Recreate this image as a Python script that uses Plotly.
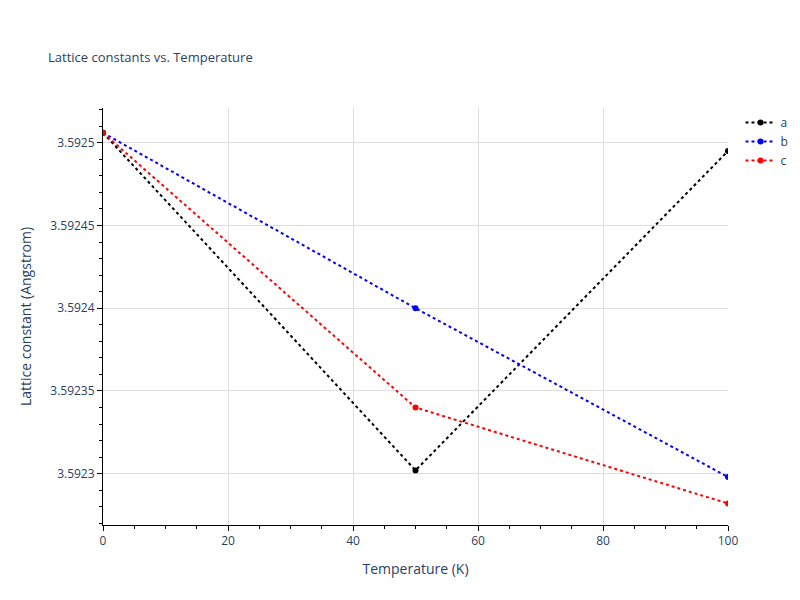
import plotly.graph_objects as go

temps = [0, 50, 100]
a_vals = [3.592506, 3.592302, 3.592495]
b_vals = [3.592506, 3.5924, 3.592298]
c_vals = [3.592506, 3.59234, 3.592282]
names = ["a", "b", "c"]
colors = ["black", "blue", "red"]

fig = go.Figure()
for n, v, col in zip(names, [a_vals, b_vals, c_vals], colors):
    fig.add_trace(go.Scatter(x=temps, y=v, name=n, mode="lines+markers",
                             line=dict(color=col, dash="dot"), marker=dict(color=col, size=6)))
axis = dict(showline=True, linecolor="black", ticks="outside", tickcolor="black", showgrid=True,
            gridcolor="#dddddd", minor=dict(ticks="outside", ticklen=3, tickcolor="black"), zeroline=False)
fig.update_layout(
    template="plotly", width=800, height=600,
    plot_bgcolor="white", paper_bgcolor="white",
    margin=dict(l=95, r=80, t=100, b=83),
    title=dict(text="Lattice constants vs. Temperature", x=0.05, y=0.925, font=dict(size=13)),
    xaxis=dict(title="Temperature (K)", range=[0, 100], **axis),
    yaxis=dict(title="Lattice constant (Angstrom)", range=[3.592269, 3.592521], dtick=0.00005, **axis),
)
fig.write_html("out.html")
